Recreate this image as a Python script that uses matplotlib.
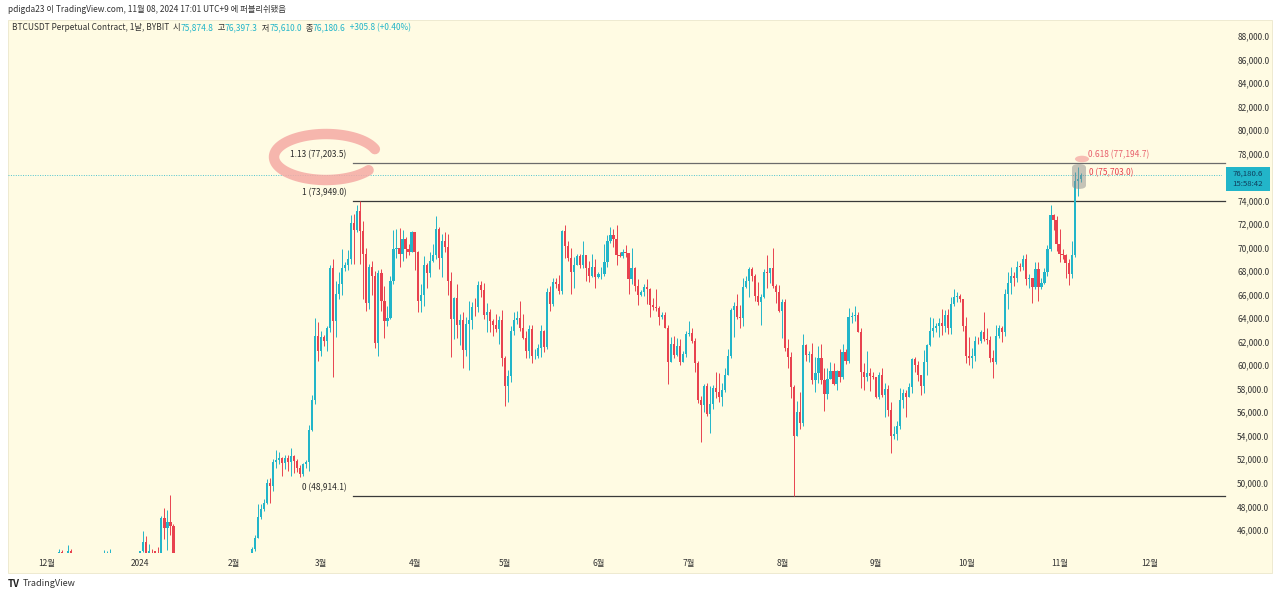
import numpy as np
import pandas as pd
import matplotlib
matplotlib.use("Agg")
import matplotlib.pyplot as plt
import matplotlib.dates as mdates
from matplotlib.patches import Rectangle, FancyBboxPatch, Circle
from matplotlib.lines import Line2D

plt.rcParams['font.family'] = ['Noto Sans CJK KR', 'DejaVu Sans']

# daily BTCUSDT (thousands of USDT), 2023-12-01 .. 2024-11-08
first_open = 37.72
closes = [
    38.7, 39.45, 39.97, 41.98, 44.08, 43.77, 43.29, 44.17, 43.72, 43.79, 41.24, 41.45, 42.89, 43.02, 41.93, 42.24, 41.36, 42.66, 42.26, 43.65, 43.86, 43.98, 43.71, 43.01, 43.58, 42.51, 43.44, 42.58, 42.07, 42.14, 42.28,  # dec
    44.18, 44.95, 42.85, 44.18, 44.16, 43.97, 43.93, 46.97, 46.12, 46.66, 46.34, 42.78, 42.84, 41.73, 42.51, 43.15, 42.74, 41.27, 41.62, 41.66, 41.58, 39.50, 39.85, 40.08, 39.93, 41.81, 42.12, 42.03, 43.30, 42.94, 42.58,  # jan
    43.08, 43.19, 43.00, 42.58, 42.70, 43.09, 44.34, 45.29, 47.13, 47.77, 48.29, 49.96, 49.72, 51.80, 51.91, 52.14, 51.65, 52.12, 51.78, 52.26, 51.85, 51.30, 50.73, 51.57, 51.73, 54.48, 57.05, 62.50, 61.18,  # feb
    62.44, 62.03, 63.13, 68.30, 63.80, 66.10, 66.92, 68.30, 68.50, 69.02, 72.10, 71.48, 73.08, 71.40, 69.45, 65.30, 68.39, 67.60, 61.93, 67.85, 65.50, 63.80, 64.06, 67.21, 69.88, 69.99, 69.45, 70.78, 69.89, 69.65, 71.33,  # mar
    69.65, 65.46, 65.97, 68.50, 67.84, 68.90, 69.36, 71.62, 69.14, 70.59, 70.06, 67.20, 63.92, 65.74, 63.42, 63.81, 61.28, 63.47, 63.82, 64.94, 64.93, 66.84, 66.41, 64.29, 64.49, 63.76, 63.46, 63.12, 63.84, 60.64,  # apr
    58.25, 59.12, 62.89, 63.89, 64.03, 63.16, 62.33, 61.19, 63.07, 60.79, 60.79, 61.45, 62.90, 61.55, 66.27, 65.23, 67.05, 66.94, 66.28, 71.45, 70.14, 69.12, 67.93, 68.53, 69.26, 68.51, 69.39, 68.30, 67.59, 68.35, 67.49,  # may
    67.75, 67.76, 68.81, 70.56, 71.08, 70.76, 69.34, 69.31, 69.65, 69.51, 67.32, 68.24, 66.75, 66.01, 66.19, 66.64, 66.49, 65.15, 64.96, 64.83, 64.10, 64.26, 63.18, 60.28, 61.80, 60.86, 61.67, 60.32, 60.93, 62.68,  # jun
    62.77, 62.03, 60.20, 57.04, 56.66, 58.23, 55.85, 56.71, 58.05, 57.72, 57.34, 57.89, 59.20, 60.80, 64.72, 65.04, 64.09, 63.98, 66.69, 67.15, 68.17, 67.58, 65.93, 65.37, 65.78, 67.91, 67.89, 68.25, 66.78, 66.19, 64.63,  # jul
    65.35, 61.50, 60.68, 58.11, 54.02, 56.04, 55.13, 61.70, 60.88, 60.94, 58.71, 59.35, 60.60, 58.74, 57.56, 58.87, 59.49, 58.44, 59.49, 59.01, 61.16, 60.38, 64.10, 64.18, 64.26, 62.83, 59.42, 59.03, 59.37, 59.12, 58.97,  # aug
    57.30, 59.13, 57.49, 57.97, 56.16, 53.95, 54.16, 54.87, 57.04, 57.65, 57.34, 58.13, 60.54, 59.99, 59.13, 58.21, 60.31, 61.76, 62.94, 63.20, 63.35, 63.58, 63.34, 64.26, 63.14, 65.18, 65.79, 65.89, 65.60, 63.33,  # sep
    60.81, 60.63, 60.75, 62.08, 62.06, 62.82, 62.22, 62.13, 60.58, 60.28, 62.45, 63.20, 62.85, 66.08, 67.04, 67.61, 67.40, 68.40, 68.37, 69.03, 67.38, 67.39, 66.68, 68.17, 66.64, 67.03, 67.93, 69.90, 72.74, 72.34, 70.29,  # oct
    69.49, 69.37, 68.74, 67.80, 69.36, 75.64, 75.8748, 76.1806,  # nov
]
highs = [
    38.97, 39.7, 40.2, 42.4, 44.4, 44.3, 44.0, 44.7, 44.37, 44.0, 43.8, 42.0, 43.4, 43.4, 43.1, 42.8, 42.7, 42.8, 43.3, 44.3, 44.2, 44.4, 44.0, 43.9, 43.8, 43.6, 43.7, 43.8, 43.1, 42.6, 42.9,
    44.2, 45.9, 45.5, 44.8, 44.35, 44.2, 44.5, 47.2, 47.9, 47.7, 49.0, 46.5, 43.3, 43.1, 43.4, 43.55, 43.2, 42.9, 42.2, 41.9, 41.9, 41.7, 40.5, 40.55, 40.3, 42.2, 42.2, 42.8, 43.3, 43.85, 43.7,
    43.75, 43.4, 43.5, 43.1, 43.5, 43.4, 44.5, 45.6, 48.2, 48.2, 48.6, 50.3, 50.4, 52.0, 52.8, 52.6, 52.2, 52.35, 52.4, 53.0, 52.4, 52.0, 51.5, 51.7, 51.95, 54.9, 57.5, 64.0, 63.7,
    62.9, 62.6, 63.3, 68.5, 69.0, 67.2, 67.9, 69.9, 68.8, 69.8, 72.8, 72.9, 73.6, 73.949, 72.3, 70.0, 68.6, 68.9, 68.0, 68.1, 68.2, 66.7, 65.0, 67.6, 71.5, 71.6, 71.7, 71.5, 70.9, 70.3, 71.4,
    71.3, 69.7, 66.9, 69.3, 68.7, 69.6, 70.3, 72.7, 71.75, 71.2, 71.3, 71.2, 67.9, 65.8, 66.9, 64.4, 64.5, 64.1, 65.5, 65.4, 65.7, 67.2, 67.2, 67.0, 65.3, 64.8, 63.9, 64.4, 64.2, 64.7,
    60.8, 59.6, 63.3, 64.5, 64.6, 65.5, 64.4, 62.9, 63.4, 63.4, 61.4, 61.8, 63.4, 63.0, 66.6, 66.7, 67.4, 67.4, 67.7, 71.5, 71.95, 70.6, 70.0, 69.2, 69.5, 69.5, 70.6, 69.0, 68.9, 69.5, 69.0,
    67.9, 68.4, 70.3, 71.1, 71.75, 71.6, 71.95, 69.6, 69.9, 70.2, 69.5, 70.0, 68.4, 67.3, 66.4, 66.9, 67.3, 66.6, 65.7, 66.5, 65.0, 64.5, 64.5, 63.4, 62.4, 62.5, 62.3, 62.2, 61.2, 62.9,
    63.8, 63.2, 62.3, 60.4, 57.4, 58.4, 58.5, 58.2, 58.3, 59.4, 59.3, 58.5, 59.8, 61.4, 64.9, 65.4, 66.1, 65.1, 67.4, 67.6, 68.4, 68.4, 67.8, 67.1, 66.1, 68.2, 69.4, 68.3, 70.0, 66.9, 66.8,
    65.6, 65.6, 62.2, 61.1, 58.3, 57.0, 57.7, 62.7, 61.8, 61.2, 61.9, 60.7, 61.6, 61.8, 59.8, 59.8, 60.3, 60.2, 59.6, 61.4, 61.8, 61.4, 64.9, 64.5, 65.0, 64.5, 63.2, 60.2, 61.2, 59.8, 59.4,
    59.0, 59.4, 59.8, 58.5, 58.3, 56.9, 54.8, 55.3, 58.1, 58.0, 57.9, 58.5, 60.6, 60.7, 60.4, 59.2, 61.3, 61.8, 64.1, 64.0, 63.6, 64.0, 64.8, 64.7, 64.8, 65.8, 66.5, 66.2, 66.1, 65.6,
    64.1, 62.4, 61.5, 62.5, 62.4, 63.0, 64.5, 63.2, 62.5, 61.3, 63.4, 63.4, 63.3, 66.5, 67.9, 68.4, 67.9, 68.9, 68.7, 69.4, 69.5, 67.8, 67.4, 68.8, 68.8, 67.4, 68.3, 70.2, 73.6, 72.9, 72.7,
    71.6, 69.9, 69.5, 69.0, 70.6, 76.4, 76.9, 76.3973,
]
lows = [
    37.6, 38.6, 39.3, 39.9, 41.4, 43.3, 42.8, 43.0, 43.5, 43.3, 40.2, 40.7, 41.0, 42.5, 41.6, 41.7, 41.2, 40.5, 41.7, 42.2, 43.3, 43.5, 43.3, 42.8, 42.8, 41.6, 42.1, 42.3, 41.3, 41.5, 41.9,
    42.2, 44.1, 40.8, 42.6, 42.6, 43.5, 43.6, 43.8, 45.2, 44.3, 45.6, 41.5, 41.7, 41.7, 41.7, 42.0, 42.2, 40.7, 40.3, 41.4, 41.4, 39.4, 38.5, 39.5, 39.5, 39.8, 41.4, 41.6, 41.8, 42.7, 42.3,
    42.5, 42.5, 42.9, 42.2, 42.5, 42.5, 42.8, 44.2, 45.3, 46.9, 47.6, 48.2, 48.3, 49.3, 51.3, 51.6, 50.6, 51.2, 51.0, 50.6, 50.8, 50.9, 50.5, 50.6, 51.3, 51.0, 54.4, 56.7, 60.4,
    60.8, 61.6, 61.2, 62.8, 59.0, 62.4, 65.6, 66.0, 68.0, 68.1, 68.6, 68.6, 71.3, 68.6, 65.6, 64.6, 64.8, 66.0, 61.5, 60.8, 64.6, 62.3, 63.3, 63.9, 66.9, 69.1, 68.4, 68.9, 69.1, 69.4, 69.6,
    68.1, 64.5, 64.5, 65.0, 66.6, 67.5, 68.8, 69.0, 68.2, 67.5, 69.6, 66.0, 60.7, 62.2, 62.3, 61.7, 59.8, 60.8, 59.6, 63.1, 64.2, 64.5, 65.8, 63.9, 62.8, 62.8, 62.5, 62.8, 61.8, 59.9,
    56.5, 56.9, 58.6, 62.6, 63.5, 62.9, 62.2, 60.6, 60.6, 60.2, 60.5, 60.6, 60.7, 61.1, 61.4, 64.6, 65.0, 66.6, 66.1, 66.1, 69.1, 68.9, 66.1, 66.6, 68.5, 68.3, 68.3, 67.2, 67.1, 67.5, 66.6,
    67.4, 67.3, 67.6, 68.4, 70.4, 70.1, 68.5, 69.2, 69.1, 69.2, 66.1, 66.9, 66.3, 65.1, 65.9, 65.9, 65.2, 64.1, 64.7, 64.6, 63.4, 63.9, 63.2, 58.4, 60.7, 60.6, 60.8, 60.0, 60.6, 60.7,
    62.5, 61.9, 59.4, 56.8, 53.5, 56.0, 55.7, 54.2, 56.3, 57.2, 56.9, 56.5, 57.7, 59.4, 60.6, 62.4, 63.9, 63.2, 63.3, 66.6, 65.8, 67.2, 65.5, 65.1, 63.4, 65.7, 66.6, 67.0, 66.6, 65.3, 64.5,
    62.3, 61.2, 59.8, 57.2, 48.914, 54.0, 54.6, 54.8, 60.4, 60.3, 58.4, 57.7, 58.5, 58.4, 56.1, 57.1, 58.8, 58.3, 57.9, 58.6, 58.8, 60.1, 60.2, 63.6, 63.8, 62.8, 58.1, 57.9, 58.7, 57.8, 58.8,
    57.2, 57.1, 57.3, 55.6, 55.7, 52.55, 53.7, 53.6, 54.6, 56.4, 55.6, 57.3, 57.6, 59.4, 58.7, 57.5, 57.6, 59.2, 61.6, 62.4, 62.8, 62.4, 62.6, 62.8, 62.7, 62.7, 65.0, 65.4, 65.4, 62.9,
    60.2, 60.0, 59.8, 60.4, 61.8, 61.9, 62.1, 61.8, 60.3, 58.9, 60.1, 62.3, 62.0, 62.5, 64.8, 66.1, 66.7, 67.1, 68.0, 68.1, 66.8, 66.6, 65.3, 66.5, 65.5, 66.5, 66.9, 67.6, 69.7, 71.5, 69.7,
    68.8, 69.0, 67.4, 66.8, 67.4, 69.2, 74.4, 75.61,
]

fib_levels = [77203.5, 73949.0, 48914.1]
fib_labels = ["1.13 (77,203.5)", "1 (73,949.0)", "0 (48,914.1)"]
last_price = 76180.6
month_ticks = ["2023-12-01", "2024-01-01", "2024-02-01", "2024-03-01", "2024-04-01", "2024-05-01", "2024-06-01",
               "2024-07-01", "2024-08-01", "2024-09-01", "2024-10-01", "2024-11-01", "2024-12-01"]
month_labels = ["12월", "2024", "2월", "3월", "4월", "5월", "6월", "7월", "8월", "9월", "10월", "11월", "12월"]
# 76,000 sits behind the last-price tag, so it is not labelled
price_ticks = [v for v in range(46000, 88001, 2000) if v != 76000]

UP = "#22b5c9"
DOWN = "#e8424f"
BG = "#fffbe3"
W, H = 1280, 597
FS = 6.0

c = np.array(closes) * 1000
h = np.array(highs) * 1000
l = np.array(lows) * 1000
o = np.concatenate([[first_open * 1000], c[:-1]])
h = np.maximum(h, np.maximum(o, c))
l = np.minimum(l, np.minimum(o, c))
dates = pd.date_range("2023-12-01", periods=len(c), freq="D")
x = mdates.date2num(dates)


def fx(px):
    return px / W


def fy(py):
    return 1 - py / H


fig = plt.figure(figsize=(12.8, 5.97), dpi=100)
fig.patches.append(Rectangle((fx(8), fy(573)), fx(1272) - fx(8), fy(20) - fy(573), transform=fig.transFigure,
                             facecolor=BG, edgecolor="#ebe7cc", lw=0.6, zorder=-10))

ax = fig.add_axes([fx(8), fy(553), fx(1222) - fx(8), fy(20) - fy(553)])
ax.patch.set_visible(False)
for s in ax.spines.values():
    s.set_visible(False)

up = c >= o
col = np.where(up, UP, DOWN)
ax.vlines(x, l, h, colors=col, linewidth=0.7, zorder=3)
body = np.maximum(np.abs(c - o), 40)
ax.bar(x, body, bottom=np.minimum(o, c), width=0.72, color=col, linewidth=0, zorder=4)

d0 = mdates.date2num(pd.Timestamp("2023-12-01"))
ax.set_xlim(d0 - 12.9, d0 + 389.9)
ax.set_ylim(44030, 89370)

# fib lines
fib_start = mdates.date2num(pd.Timestamp("2024-03-11 12:00"))
fib_colors = ["#6b6b6b", "#3a3a3a", "#3a3a3a"]
for lv, lab, fc in zip(fib_levels, fib_labels, fib_colors):
    ax.plot([fib_start, ax.get_xlim()[1] + 1], [lv, lv], color=fc, lw=0.9, zorder=2, clip_on=False)
    ax.annotate(lab, (fib_start, lv), xytext=(-4.5, 6), textcoords="offset points",
                ha="right", va="center", fontsize=FS, color="#2a2a2a")

ax.axhline(last_price, color=UP, lw=0.7, ls=(0, (1, 1.5)), alpha=0.8, zorder=2)

# small red fib labels near the last candles
xl = x[-1]
ax.annotate("0.618 (77,194.7)", (xl, 77194.7), xytext=(5, 6), textcoords="offset points",
            ha="left", va="center", fontsize=FS, color="#e8606c", zorder=6)
ax.annotate("0 (75,703.0)", (xl, 75703.0), xytext=(6, 6), textcoords="offset points",
            ha="left", va="center", fontsize=FS, color="#e8424f", zorder=6)

# highlights
fig.patches.append(FancyBboxPatch((fx(1072), fy(189)), fx(1086) - fx(1072), fy(164) - fy(189),
                                  boxstyle="round,pad=0,rounding_size=0.006", transform=fig.transFigure,
                                  facecolor="#8d8d8d", alpha=0.5, edgecolor="none", zorder=5))
fig.patches.append(Circle((fx(1082), fy(159)), 0.0055, transform=fig.transFigure,
                          facecolor="#f5a9a4", alpha=0.75, edgecolor="none", zorder=5))
t = np.linspace(np.radians(20), np.radians(325), 80)
cx, cy, rx, ry = 326, 157, 52, 23
fig.add_artist(Line2D(fx(cx + rx * np.cos(t)), fy(cy - ry * np.sin(t)), transform=fig.transFigure,
                      color="#f5aaa4", lw=7.5, alpha=0.85, solid_capstyle="round", zorder=1))

# axes ticks
ax.set_xticks(mdates.date2num(pd.to_datetime(month_ticks)))
ax.set_xticklabels(month_labels)
ax.set_yticks(price_ticks)
ax.set_yticklabels([f"{v:,.1f}" for v in price_ticks])
ax.yaxis.tick_right()
ax.tick_params(axis="y", length=0, pad=11, labelsize=FS, labelcolor="#333333")
ax.tick_params(axis="x", length=0, pad=4, labelsize=FS, labelcolor="#333333")

# last price tag
fig.patches.append(Rectangle((fx(1226), fy(191)), fx(1270) - fx(1226), fy(167) - fy(191),
                             transform=fig.transFigure, facecolor=UP, edgecolor="none", zorder=5))
fig.text(fx(1248), fy(174), "76,180.6", ha="center", va="center", fontsize=5.6, color="#0e3d5c", zorder=6)
fig.text(fx(1248), fy(184), "15:58:42", ha="center", va="center", fontsize=5.6, color="#0e3d5c", zorder=6)

# header texts
fig.text(fx(8), fy(9), "pdigda23 이 TradingView.com, 11월 08, 2024 17:01 UTC+9 에 퍼블리쉬됐음",
         ha="left", va="center", fontsize=FS, color="#333333")
parts = [("BTCUSDT Perpetual Contract, 1날, BYBIT  시", "#333333"), ("75,874.8", UP),
         ("  고", "#333333"), ("76,397.3", UP), ("  저", "#333333"), ("75,610.0", UP),
         ("  종", "#333333"), ("76,180.6", UP), ("  +305.8 (+0.40%)", UP)]
prev = fig.text(fx(12), fy(28), parts[0][0], ha="left", va="center", fontsize=FS, color=parts[0][1])
for txt, cl in parts[1:]:
    prev = ax.annotate(txt, xy=(1, 0.5), xycoords=prev, ha="left", va="center", fontsize=FS,
                       color=cl, annotation_clip=False)

fig.text(fx(8), fy(584), "TV", ha="left", va="center", fontsize=7, fontweight="bold", color="#222222")
fig.text(fx(23), fy(584), "TradingView", ha="left", va="center", fontsize=6.5, color="#333333")

fig.savefig("out.png", dpi=100, facecolor="white")
